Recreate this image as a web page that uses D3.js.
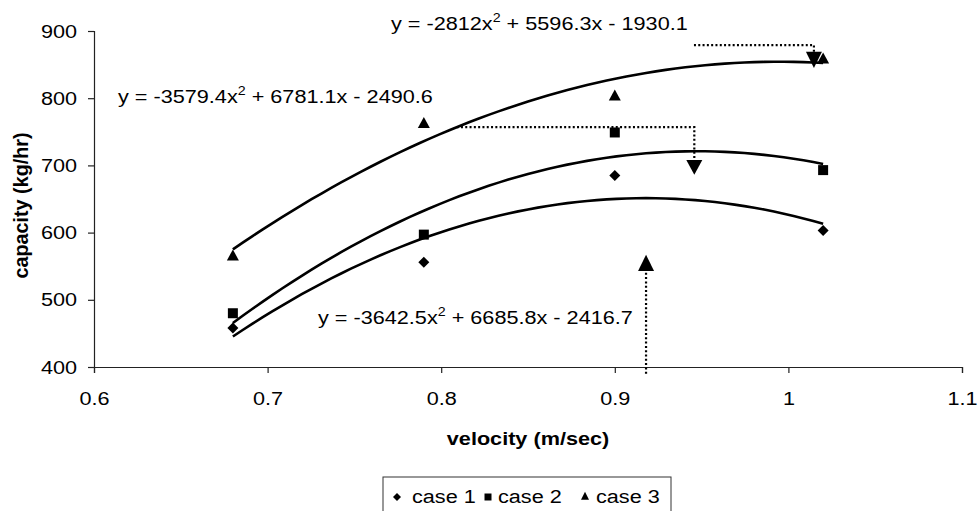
<!DOCTYPE html>
<html lang="en">
<head>
<meta charset="UTF-8">
<title>capacity vs velocity</title>
<script src="https://d3js.org/d3.v7.min.js"></script>
<style>
  body { margin: 0; background: #fff; }
  svg text { font-family: "Liberation Sans", Arial, sans-serif; fill: #000; }
</style>
</head>
<body>
<svg width="979" height="511"></svg>
<script>
// data
const velocity = [0.68, 0.79, 0.9, 1.02];
const case1 = [458, 556, 685, 603];
const case2 = [480, 597, 749, 693];
const case3 = [564, 761, 802, 857];

// trendline coefficients [a, b, c] for y = a x^2 + b x + c
const fit1 = [-3642.5, 6685.8, -2416.7];
const fit2 = [-3579.4, 6781.1, -2490.6];
const fit3 = [-2812, 5596.3, -1930.1];

const xTicks = [0.6, 0.7, 0.8, 0.9, 1, 1.1];
const yTicks = [400, 500, 600, 700, 800, 900];

// dotted arrows: line points, then arrow head tip and base (data units)
const arrowTop = { line: [[0.9456, 879], [1.0147, 879], [1.0147, 869]], tip: [1.0147, 845], base: 869 };
const arrowMid = { line: [[0.8089, 757], [0.9458, 757], [0.9458, 708]], tip: [0.9458, 686], base: 708 };
const arrowLow = { line: [[0.918, 390], [0.918, 543]], tip: [0.918, 567], base: 543 };

const SX = 1.14;   // the picture is a bit wider than tall
const FS = 19;

const svg = d3.select("svg");
const x = d3.scaleLinear().domain([0.6, 1.1]).range([94, 962]);
const y = d3.scaleLinear().domain([400, 900]).range([367, 31]);

// axes
svg.append("g").attr("transform", "translate(0,367)")
  .call(d3.axisBottom(x).tickValues(xTicks).tickSize(6).tickPadding(19)
    .tickFormat(d => String(d)))
  .call(g => g.selectAll("text").style("font-size", FS + "px")
    .attr("transform", `scale(${SX},1)`));
svg.append("g").attr("transform", "translate(94,0)")
  .call(d3.axisLeft(y).tickValues(yTicks).tickSize(6).tickPadding(11))
  .call(g => g.selectAll("text").style("font-size", FS + "px")
    .attr("x", -17 / SX).attr("transform", `scale(${SX},1)`));
svg.selectAll(".domain, .tick line").attr("stroke", "#222").attr("stroke-width", 1.2);

// trendlines
function curve(c) {
  const pts = d3.range(0, 61).map(i => {
    const v = 0.68 + i * (1.02 - 0.68) / 60;
    return [v, c[0] * v * v + c[1] * v + c[2]];
  });
  return d3.line().x(d => x(d[0])).y(d => y(d[1]))(pts);
}
[fit1, fit2, fit3].forEach(c => {
  svg.append("path").attr("d", curve(c)).attr("fill", "none")
    .attr("stroke", "#000").attr("stroke-width", 2.6);
});

// marker shapes (w x h boxes)
const diamond = (w, h) => `M0,${-h / 2}L${w / 2},0L0,${h / 2}L${-w / 2},0Z`;
const square = (w, h) => `M${-w / 2},${-h / 2}h${w}v${h}h${-w}Z`;
const triangle = (w, h) => `M0,${-h * 2 / 3}L${w / 2},${h / 3}L${-w / 2},${h / 3}Z`;

const series = [
  { vals: case1, shape: diamond(11, 11) },
  { vals: case2, shape: square(10, 10) },
  { vals: case3, shape: triangle(12, 11) }
];
series.forEach(s => {
  svg.append("g").selectAll("path").data(s.vals).join("path")
    .attr("d", s.shape)
    .attr("transform", (d, i) => `translate(${x(velocity[i])},${y(d)})`)
    .attr("fill", "#000");
});

// dotted arrows
function arrow(a) {
  svg.append("path")
    .attr("d", d3.line().x(d => x(d[0])).y(d => y(d[1]))(a.line))
    .attr("fill", "none").attr("stroke", "#000")
    .attr("stroke-width", 2.2).attr("stroke-dasharray", "2,2.3");
  const tx = x(a.tip[0]), ty = y(a.tip[1]), by = y(a.base);
  svg.append("path")
    .attr("d", `M${tx},${ty}L${tx + 8},${by}L${tx - 8},${by}Z`)
    .attr("fill", "#000");
}
arrow(arrowTop);
arrow(arrowMid);
arrow(arrowLow);

// horizontal text helper
function label(tx, ty, opts) {
  const g = svg.append("g").attr("transform", `translate(${tx},${ty}) scale(${SX},1)`);
  const t = g.append("text").style("font-size", (opts && opts.size || FS) + "px");
  if (opts && opts.anchor) t.attr("text-anchor", opts.anchor);
  if (opts && opts.bold) t.style("font-weight", "bold");
  return t;
}

// equation labels
function eq(tx, ty, a, rest) {
  const t = label(tx, ty);
  t.append("tspan").text("y = " + a + "x");
  t.append("tspan").text("2").attr("dy", -8).style("font-size", "12.5px");
  t.append("tspan").text(rest).attr("dy", 8);
}
eq(391, 30, "-2812", " + 5596.3x - 1930.1");
eq(118, 103, "-3579.4", " + 6781.1x - 2490.6");
eq(318, 324, "-3642.5", " + 6685.8x - 2416.7");

// axis titles
label(528, 445, { anchor: "middle", bold: true }).text("velocity (m/sec)");
svg.append("text").attr("transform", "translate(28,205.5) rotate(-90)")
  .attr("text-anchor", "middle").style("font-size", "19.8px").style("font-weight", "bold")
  .text("capacity (kg/hr)");

// legend
const lg = svg.append("g");
lg.append("rect").attr("x", 383).attr("y", 477).attr("width", 288).attr("height", 45)
  .attr("fill", "#fff").attr("stroke", "#333").attr("stroke-width", 1);
const items = [
  { name: "case 1", shape: diamond(8, 8), mx: 397, tx: 412 },
  { name: "case 2", shape: square(7, 7), mx: 488, tx: 498 },
  { name: "case 3", shape: triangle(8, 8), mx: 585, tx: 596 }
];
items.forEach(it => {
  lg.append("path").attr("d", it.shape)
    .attr("transform", `translate(${it.mx},${497})`).attr("fill", "#000");
  label(it.tx, 503).text(it.name);
});
</script>
</body>
</html>
